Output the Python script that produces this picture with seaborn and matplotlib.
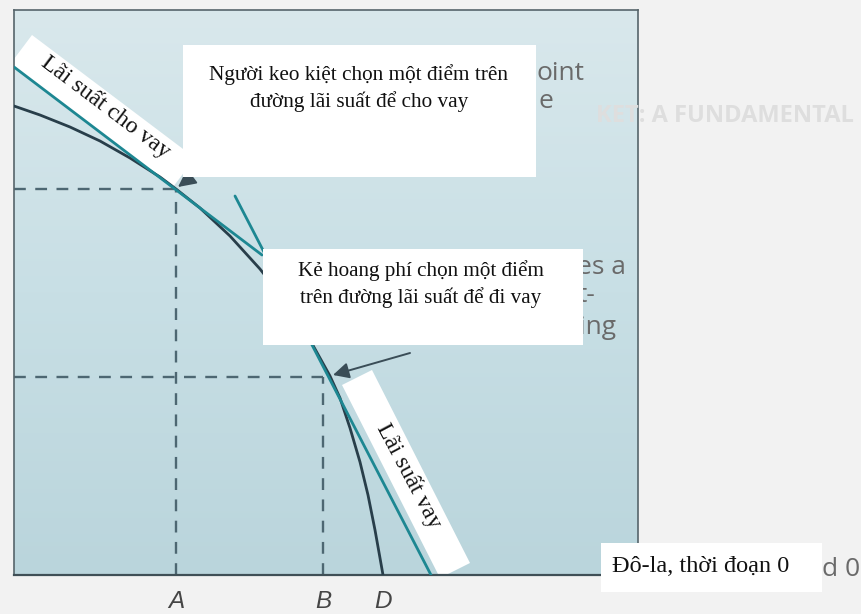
import numpy as np
import matplotlib
matplotlib.use("Agg")
import matplotlib.pyplot as plt
from matplotlib.colors import LinearSegmentedColormap
from matplotlib.patches import Rectangle, Polygon
import seaborn as sns

# Production-opportunity curve: dollars in period 0 (x) against dollars in period 1 (y)
curve_x = [0.0, 2.6, 5.6, 8.6, 11.6, 14.6, 16.2, 18.6, 21.6, 24.6, 27.1, 29.6,
           31.6, 32.6, 33.6, 34.6, 35.4, 36.1, 36.6, 36.9]
curve_y = [46.9, 46.0, 44.8, 43.4, 41.7, 39.8, 38.6, 36.7, 33.9, 30.6, 27.4, 23.5,
           19.9, 17.7, 14.7, 11.3, 8.0, 4.5, 1.7, 0.0]

# Lending-rate line (miser) and borrowing-rate line (spendthrift)
lend_x = [0.0, 24.8]
lend_y = [50.8, 32.0]
borrow_x = [22.1, 41.7]
borrow_y = [37.9, 0.0]

# Chosen points on the curve and the axis marks
point_a = (16.2, 38.6)
point_b = (30.9, 19.8)
tick_pos = [16.2, 30.9, 36.9]
tick_labels = ["A", "B", "D"]

x_max, y_max = 62.4, 56.5

sns.set_theme(style="white")
plt.rcParams["font.family"] = ["Liberation Serif", "DejaVu Serif"]

W, H = 862, 614
fig = plt.figure(figsize=(W / 100, H / 100), dpi=100, facecolor="#f2f2f2")

# pixel-space overlay for captions and cover boxes
ov = fig.add_axes([0, 0, 1, 1])
ov.set_xlim(0, W)
ov.set_ylim(H, 0)
ov.axis("off")
ov.set_zorder(5)

ax = fig.add_axes([14 / W, 39 / H, 624 / W, 565 / H])
ax.set_zorder(1)

# pale blue panel
panel_cmap = LinearSegmentedColormap.from_list("panel", ["#bad5dc", "#c8dfe5", "#d9e8ec"])
grad = np.linspace(0, 1, 256).reshape(-1, 1)
ax.imshow(grad, extent=[0, x_max, 0, y_max], origin="lower", aspect="auto",
          cmap=panel_cmap, zorder=0)

curve_col = "#283e4a"
teal = "#1d8792"
dash_col = "#4d6772"

# white label bands along the two rate lines
ax.add_patch(Polygon([(32, 35), (195, 158), (173, 187), (14, 67), (14, 59)],
                     closed=True, facecolor="white", edgecolor="none",
                     transform=ov.transData, zorder=1))
ax.add_patch(Polygon([(342, 385), (372, 370), (470, 563), (440, 578)],
                     closed=True, facecolor="white", edgecolor="none",
                     transform=ov.transData, zorder=1))
ax.text(106, 107, "Lãi suất cho vay", rotation=-37, rotation_mode="anchor",
        ha="center", va="center", fontsize=17, color="#111111",
        transform=ov.transData, zorder=2)
ax.text(409, 476, "Lãi suất vay", rotation=-62, rotation_mode="anchor",
        ha="center", va="center", fontsize=17, color="#111111",
        transform=ov.transData, zorder=2)

# dashed guides to the chosen points
for gx, gy in [([0, point_a[0]], [point_a[1], point_a[1]]),
               ([point_a[0], point_a[0]], [0, point_a[1]]),
               ([0, point_b[0]], [point_b[1], point_b[1]]),
               ([point_b[0], point_b[0]], [0, point_b[1]])]:
    ax.plot(gx, gy, color=dash_col, lw=1.7, dashes=(5, 4), zorder=2)

sns.lineplot(x=curve_x, y=curve_y, ax=ax, color=curve_col, lw=2.0,
             sort=False, estimator=None, zorder=3)
sns.lineplot(x=lend_x, y=lend_y, ax=ax, color=teal, lw=2.0,
             sort=False, estimator=None, zorder=4)
sns.lineplot(x=borrow_x, y=borrow_y, ax=ax, color=teal, lw=2.0,
             sort=False, estimator=None, zorder=4)

arrow_col = "#3a4d57"
ax.annotate("", xy=(16.4, 38.8), xytext=(22.6, 43.5),
            arrowprops=dict(arrowstyle="-|>", color=arrow_col, lw=1.4,
                            mutation_scale=27, shrinkA=0, shrinkB=0), zorder=5)
ax.annotate("", xy=(31.9, 20.0), xytext=(39.6, 22.2),
            arrowprops=dict(arrowstyle="-|>", color=arrow_col, lw=1.4,
                            mutation_scale=24, shrinkA=0, shrinkB=0), zorder=5)

ax.set_xlim(0, x_max)
ax.set_ylim(0, y_max)
ax.set_xticks(tick_pos)
ax.set_xticklabels(tick_labels, fontstyle="italic", family="Liberation Sans",
                   fontsize=17.5, color="#454545")
ax.tick_params(axis="x", length=0, pad=11)
ax.set_yticks([])
ax.set_xlabel("")
ax.set_ylabel("")
for side, sp in ax.spines.items():
    sp.set_visible(True)
    sp.set_color("#56656b")
    sp.set_linewidth(1.2)
ax.spines["bottom"].set_color("#3f4f56")
ax.spines["bottom"].set_linewidth(1.6)

# page text peeking out around the boxes
page_col = "#6a6a6a"
sans = ["Open Sans", "DejaVu Sans"]
ov.text(596, 116, "KET: A FUNDAMENTAL", fontsize=17, fontweight="bold",
        color="#dedede", family=sans, ha="left", va="center", zorder=1)
for x, y, s in [(537, 74, "oint"), (539, 101, "e"), (577, 267, "es a"),
                (578, 296, "t-"), (579, 328, "ing"), (822, 570, "d 0")]:
    ov.text(x, y, s, fontsize=19, color=page_col, family=sans,
            ha="left", va="center", zorder=1)

# caption boxes
ov.add_patch(Rectangle((183, 45), 353, 132, facecolor="white", edgecolor="none", zorder=3))
ov.text(359, 88, "Người keo kiệt chọn một điểm trên\nđường lãi suất để cho vay",
        ha="center", va="center", fontsize=15.3, color="#111111",
        linespacing=1.35, zorder=4)

ov.add_patch(Rectangle((263, 249), 320, 96, facecolor="white", edgecolor="none", zorder=3))
ov.text(421, 284, "Kẻ hoang phí chọn một điểm\ntrên đường lãi suất để đi vay",
        ha="center", va="center", fontsize=15.2, color="#111111",
        linespacing=1.35, zorder=4)

ov.add_patch(Rectangle((601, 543), 221, 49, facecolor="white", edgecolor="none", zorder=3))
ov.text(701, 567, "Đô-la, thời đoạn 0", ha="center", va="center",
        fontsize=17.5, color="#111111", zorder=4)

fig.savefig("out.png", dpi=100, facecolor=fig.get_facecolor())
